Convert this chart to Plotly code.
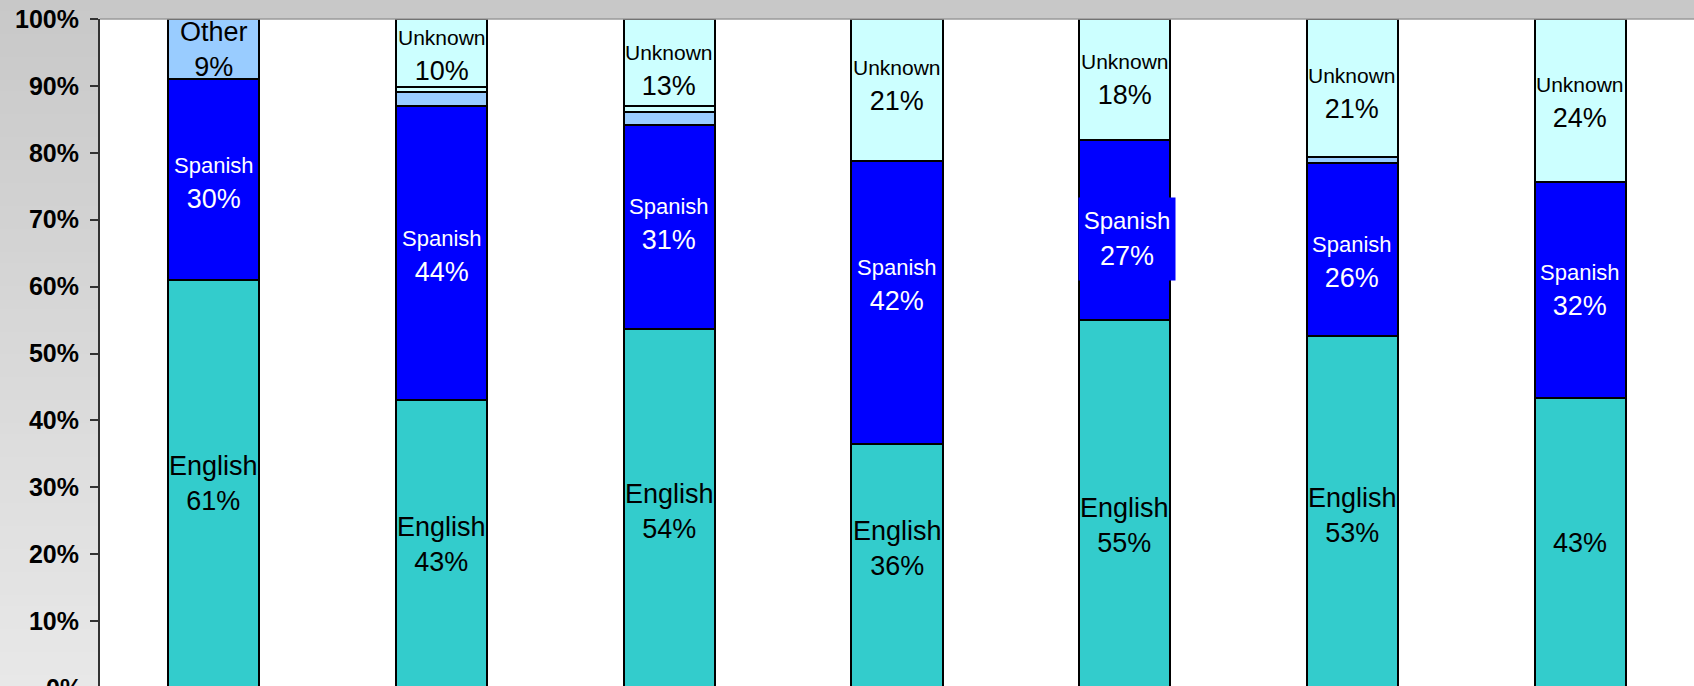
import plotly.graph_objects as go

# ---------------- data ----------------
groups = ["Group 1", "Group 2", "Group 3", "Group 4", "Group 5", "Group 6", "Group 7"]
english = [61.0, 43.0, 53.6, 36.4, 55.0, 52.6, 43.4]
spanish = [30.0, 44.0, 30.6, 42.4, 26.9, 25.9, 32.2]
other = [9.0, 2.1, 1.9, 0.0, 0.0, 0.8, 0.0]
multiple = [0.0, 0.8, 0.9, 0.0, 0.0, 0.0, 0.0]
unknown = [0.0, 10.1, 13.0, 21.2, 18.1, 20.7, 24.4]
y_ticks = [0, 10, 20, 30, 40, 50, 60, 70, 80, 90, 100]
y_tick_labels = ["0%", "10%", "20%", "30%", "40%", "50%", "60%", "70%", "80%", "90%", "100%"]

series = [
    ("English", english, "#33CCCC", "black"),
    ("Spanish", spanish, "#0000FF", "white"),
    ("Other", other, "#99CCFF", "black"),
    ("Multiple", multiple, "#CCFFFF", "black"),
    ("Unknown", unknown, "#CCFFFF", "black"),
]

# which segments carry a label: (group index, series name) -> show name line
labelled = {
    (0, "English"): True, (0, "Spanish"): True, (0, "Other"): True,
    (1, "English"): True, (1, "Spanish"): True, (1, "Unknown"): True,
    (2, "English"): True, (2, "Spanish"): True, (2, "Unknown"): True,
    (3, "English"): True, (3, "Spanish"): True, (3, "Unknown"): True,
    (4, "English"): True, (4, "Spanish"): True, (4, "Unknown"): True,
    (5, "English"): True, (5, "Spanish"): True, (5, "Unknown"): True,
    (6, "English"): False, (6, "Spanish"): True, (6, "Unknown"): True,
}
# manual label nudges (pixels, + is up), as placed in the original chart
label_shift = {
    (2, "English"): -3, (3, "English"): 18, (4, "English"): -21, (5, "English"): -3,
    (0, "Spanish"): -4, (1, "Spanish"): -3, (2, "Spanish"): 3, (3, "Spanish"): 17,
    (4, "Spanish"): -9, (5, "Spanish"): -13, (6, "Spanish"): -1,
    (1, "Unknown"): -3, (2, "Unknown"): -9, (3, "Unknown"): 4, (5, "Unknown"): -6,
    (6, "Unknown"): -2,
}

FONT = "Liberation Sans, Arial, sans-serif"
W, H = 1694, 686
ML, MT = 100, 19
Y_MIN = 0.3
plot_w = W - ML
plot_h = H - MT

fig = go.Figure()
for name, vals, color, _ in series:
    fig.add_trace(go.Bar(
        x=groups, y=vals, name=name,
        marker=dict(color=color, line=dict(color="black", width=2)),
        hoverinfo="skip",
    ))

annotations = []
name_size = {"English": 27, "Other": 27, "Spanish": 22, "Unknown": 21}
for gi, g in enumerate(groups):
    base = 0.0
    for name, vals, color, tcolor in series:
        v = vals[gi]
        if (gi, name) in labelled and v > 0:
            pct = f"{int(v + 0.5)}%"
            if labelled[(gi, name)]:
                ns = name_size[name]
                if gi == 4 and name == "Spanish":
                    ns = 24
                text = f"<span style='font-size:{ns}px'>{name}</span><br>{pct}"
            else:
                text = pct
            ann = dict(
                x=g, y=base + v / 2, xref="x", yref="y", text=text,
                showarrow=False, xanchor="center", yanchor="middle",
                font=dict(family=FONT, size=27, color=tcolor),
                yshift=label_shift.get((gi, name), 0),
            )
            if gi == 4 and name == "Spanish":
                ann.update(bgcolor="#0000FF", width=88, height=74, borderpad=4, xshift=2)
            annotations.append(ann)
        base += v

# partially visible 0% label below the visible area
annotations.append(dict(
    x=0, xref="paper", xanchor="right", xshift=-16,
    y=(0 - Y_MIN) / (100 - Y_MIN), yref="paper", yanchor="middle",
    text="0%", showarrow=False,
    font=dict(family=FONT, size=25, color="black", weight="bold"),
))

# background gradient on the left panel
shapes = []
n_bands = 60
top_paper = 1 + MT / plot_h
for i in range(n_bands):
    y1 = top_paper - i * top_paper / n_bands
    y0 = top_paper - (i + 1) * top_paper / n_bands
    c = int(round(200 + (232 - 200) * (i + 0.5) / n_bands))
    shapes.append(dict(
        type="rect", xref="paper", yref="paper",
        x0=-ML / plot_w - 0.01, x1=0, y0=y0 - 0.002, y1=y1,
        fillcolor=f"rgb({c},{c},{c})", line=dict(width=0), layer="below",
    ))
shapes.append(dict(type="line", xref="paper", yref="paper", x0=0, x1=1, y0=1, y1=1,
                   line=dict(color="#9a9a9a", width=1.5)))

fig.update_layout(
    width=W, height=H,
    margin=dict(l=ML, r=0, t=MT, b=0, pad=0),
    barmode="stack", bargap=0.6,
    showlegend=False,
    paper_bgcolor="#c8c8c8", plot_bgcolor="white",
    font=dict(family=FONT),
    annotations=annotations, shapes=shapes,
    xaxis=dict(type="category", showticklabels=False, showgrid=False,
               zeroline=False, showline=False, ticks="", fixedrange=True),
    yaxis=dict(range=[Y_MIN, 100], tickvals=y_ticks, ticktext=y_tick_labels,
               showgrid=False, zeroline=False, showline=True,
               linecolor="#333333", linewidth=2, ticks="outside", ticklen=8,
               tickwidth=2, tickcolor="#333333", ticklabelstandoff=6,
               tickfont=dict(family=FONT, size=25, color="black", weight="bold"),
               fixedrange=True),
)

fig.write_html(
    "out.html",
    config={"displayModeBar": False},
    post_script="document.body.style.margin='0';document.body.style.overflow='hidden';",
)
